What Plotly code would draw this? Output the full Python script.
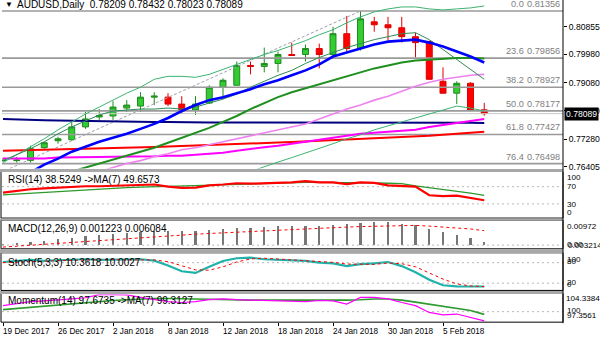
import plotly.graph_objects as go

W, H = 600, 343

# ---------------- data ----------------
bars = list(range(36))  # trading days 19 Dec 2017 .. 8 Feb 2018
date_pos = [0, 4, 8, 12, 16, 20, 24, 28, 32]
date_text = ["19 Dec 2017", "26 Dec 2017", "2 Jan 2018", "8 Jan 2018", "12 Jan 2018",
             "18 Jan 2018", "24 Jan 2018", "30 Jan 2018", "5 Feb 2018"]

open_ = [0.76590, 0.76594, 0.76600, 0.77005, 0.77226, 0.77257, 0.77667, 0.77983, 0.78014, 0.78267,
         0.78330, 0.78614, 0.78614, 0.78393, 0.78204, 0.78425, 0.78930, 0.78993, 0.79624, 0.79592,
         0.79687, 0.79971, 0.79971, 0.80161, 0.79971, 0.80634, 0.80161, 0.81013, 0.80918, 0.80823,
         0.80539, 0.80382, 0.79119, 0.78740, 0.79056, 0.78209]
high = [0.76689, 0.76710, 0.77068, 0.77194, 0.77352, 0.77825, 0.78141, 0.78235, 0.78488, 0.78519,
        0.78772, 0.78772, 0.78740, 0.78646, 0.78646, 0.78993, 0.79214, 0.79750, 0.79750, 0.80192,
        0.80066, 0.80350, 0.80287, 0.80318, 0.80855, 0.81202, 0.81356, 0.81170, 0.81170, 0.81170,
        0.80666, 0.80413, 0.79561, 0.79119, 0.79088, 0.78432]
low = [0.76562, 0.76530, 0.76531, 0.76973, 0.77131, 0.77226, 0.77604, 0.77888, 0.77888, 0.78141,
       0.78141, 0.78362, 0.78330, 0.78078, 0.78046, 0.78400, 0.78551, 0.78993, 0.79340, 0.79403,
       0.79403, 0.79940, 0.79750, 0.79529, 0.79940, 0.80066, 0.80097, 0.80697, 0.80413, 0.80350,
       0.79877, 0.79182, 0.78740, 0.78393, 0.78172, 0.78023]
close = [0.76600, 0.76610, 0.76973, 0.77163, 0.77289, 0.77667, 0.77920, 0.78030, 0.78299, 0.78362,
         0.78614, 0.78646, 0.78393, 0.78172, 0.78393, 0.78930, 0.79151, 0.79624, 0.79592, 0.79687,
         0.79971, 0.79940, 0.80161, 0.79971, 0.80634, 0.80161, 0.81107, 0.80918, 0.80823, 0.80539,
         0.80350, 0.79182, 0.78740, 0.79056, 0.78204, 0.78089]

ma10 = [None, None, 0.76216, 0.76468, 0.76657, 0.76878, 0.77036, 0.77194, 0.77320, 0.77446,
        0.77604, 0.77762, 0.77951, 0.78172, 0.78362, 0.78519, 0.78614, 0.78740, 0.78867, 0.79024,
        0.79151, 0.79309, 0.79466, 0.79656, 0.79908, 0.80034, 0.80161, 0.80287, 0.80382, 0.80413,
        0.80445, 0.80350, 0.80224, 0.80066, 0.79908, 0.79719]
ma20 = [None, None, None, None, None, 0.76247, 0.76373, 0.76500, 0.76626, 0.76752,
        0.76878, 0.77005, 0.77162, 0.77320, 0.77478, 0.77636, 0.77825, 0.78014, 0.78235, 0.78425,
        0.78614, 0.78772, 0.78899, 0.79024, 0.79151, 0.79277, 0.79403, 0.79529, 0.79624, 0.79719,
        0.79782, 0.79814, 0.79845, 0.79861, 0.79861, 0.79845]
band_up = [0.76531, 0.76784, 0.77036, 0.77289, 0.77573, 0.77825, 0.78078, 0.78299, 0.78519, 0.78741,
           0.78930, 0.79182, 0.79277, 0.79277, 0.79245, 0.79340, 0.79498, 0.79656, 0.79813, 0.79971,
           0.80098, 0.80255, 0.80413, 0.80602, 0.80760, 0.80981, 0.81170, 0.81328, 0.81423, 0.81486,
           0.81486, 0.81423, 0.81391, 0.81423, 0.81455, 0.81518]
band_low = [None] * 18 + [0.76247, 0.76405, 0.76547, 0.76689, 0.76831, 0.76973, 0.77131, 0.77289,
                          0.77415, 0.77573, 0.77699, 0.77841, 0.77951, 0.78078, 0.78204, 0.78330,
                          0.78267, 0.78172]
fast_ma = [0.76594, 0.76784, 0.76973, 0.77194, 0.77446, 0.77667, 0.77857, 0.78046, 0.78172, 0.78204,
           0.78235, 0.78235, 0.78267, 0.78235, 0.78299, 0.78425, 0.78551, 0.78709, 0.78930, 0.79119,
           0.79309, 0.79466, 0.79687, 0.79876, 0.80034, 0.80192, 0.80318, 0.80445, 0.80539, 0.80634,
           0.80666, 0.80445, 0.80129, 0.79813, 0.79498, 0.79182]
ma_violet = [None] * 7 + [0.76247, 0.76373, 0.76500, 0.76594, 0.76720, 0.76815, 0.76941, 0.77005,
                          0.77099, 0.77194, 0.77289, 0.77383, 0.77478, 0.77573, 0.77667, 0.77762,
                          0.77920, 0.78078, 0.78235, 0.78362, 0.78519, 0.78646, 0.78804, 0.78961,
                          0.79088, 0.79182, 0.79245, 0.79309, 0.79340]
ma_magenta = [0.76657, 0.76657, 0.76657, 0.76657, 0.76689, 0.76689, 0.76689, 0.76705, 0.76720, 0.76720,
              0.76720, 0.76736, 0.76752, 0.76752, 0.76784, 0.76815, 0.76847, 0.76910, 0.76973, 0.77020,
              0.77068, 0.77131, 0.77194, 0.77257, 0.77320, 0.77383, 0.77446, 0.77478, 0.77509, 0.77541,
              0.77573, 0.77667, 0.77730, 0.77794, 0.77857, 0.77920]
ma_red = [0.76910, 0.76919, 0.76929, 0.76941, 0.76954, 0.76967, 0.76976, 0.76986, 0.76995, 0.77005,
          0.77017, 0.77030, 0.77042, 0.77055, 0.77068, 0.77080, 0.77099, 0.77118, 0.77137, 0.77153,
          0.77169, 0.77188, 0.77207, 0.77226, 0.77241, 0.77257, 0.77279, 0.77301, 0.77320, 0.77339,
          0.77358, 0.77383, 0.77415, 0.77446, 0.77478, 0.77509]
ma_navy = [0.7792, 0.7790, 0.7789, 0.7788, 0.7787, 0.7786, 0.7785, 0.7784, 0.7784, 0.7783,
           0.7783, 0.7782, 0.7782, 0.7781, 0.7781, 0.7781, 0.7781, 0.7781, 0.7781, 0.7781,
           0.7781, 0.7782, 0.7782, 0.7782, 0.7782, 0.7782, 0.7782, 0.7782, 0.7782, 0.7782,
           0.7782, 0.7781, 0.7781, 0.7780, 0.7780, 0.7779]

trend_x = [0.5, 26]
trend_y = [0.76342, 0.81356]

fib_pct = ["0.0", "23.6", "38.2", "50.0", "61.8", "76.4"]
fib_lvl = [0.81356, 0.79856, 0.78927, 0.78177, 0.77427, 0.76498]
price_ticks = [0.80855, 0.79980, 0.79080, 0.78180, 0.77280, 0.76405]

rsi = [56, 60, 64, 66, 68, 69, 71, 71, 72, 73, 75, 75, 70, 67, 68, 73, 75, 78, 77, 78,
       80, 80, 83, 80, 80, 76, 80, 79, 73, 71, 70, 50, 48, 49, 43, 38.5249]
rsi_ma = [51, 53, 55, 57, 59, 61, 63, 65, 66, 68, 69, 70, 71, 71, 72, 73, 74, 75, 76, 77,
          78, 79, 80, 80, 80, 80, 80, 79, 78, 77, 72, 68, 64, 60, 55, 49.6573]

macd = [0.00032, 0.00075, 0.0014, 0.0018, 0.0024, 0.0030, 0.0037, 0.0041, 0.0047, 0.0050,
        0.0055, 0.0060, 0.0061, 0.0060, 0.0061, 0.0064, 0.0068, 0.0072, 0.0074, 0.0076,
        0.0079, 0.0080, 0.0079, 0.0080, 0.0086, 0.0089, 0.0093, 0.0096, 0.00972, 0.0090,
        0.0083, 0.0068, 0.0055, 0.0044, 0.0030, 0.001223]
macd_sig = [-0.0008, -0.0004, 0.0000, 0.0004, 0.0008, 0.0012, 0.0016, 0.0020, 0.0024, 0.0028,
            0.0032, 0.0036, 0.0040, 0.0043, 0.0046, 0.0049, 0.0052, 0.0055, 0.0058, 0.0061,
            0.0064, 0.0067, 0.0070, 0.0072, 0.0074, 0.0076, 0.0078, 0.0080, 0.0082, 0.0083,
            0.0083, 0.0080, 0.0077, 0.0073, 0.0068, 0.006084]

stoch_k = [82, 85, 88, 85, 87, 90, 90, 88, 89, 88, 90, 86, 72, 55, 50, 68, 85, 93, 95, 90,
           88, 87, 85, 80, 78, 70, 76, 78, 82, 70, 52, 30, 14, 11, 10, 10.3618]
stoch_d = [80, 82, 84, 85, 86, 87, 88, 89, 89, 88, 89, 88, 83, 71, 59, 58, 68, 82, 91, 93,
           91, 88, 87, 84, 81, 76, 75, 75, 79, 77, 68, 51, 32, 18, 12, 10.0027]

mom = [101.5, 102.0, 102.5, 102.7, 102.9, 103.2, 103.5, 104.3, 104.3, 104.2, 103.6, 103.0,
       102.5, 102.3, 102.5, 103.0, 103.2, 103.0, 102.9, 102.8, 102.8, 102.6, 102.5, 102.8,
       102.7, 101.9, 103.6, 103.6, 103.2, 102.3, 101.5, 99.8, 99.2, 99.4, 98.5, 97.6735]
mom_ma = [100.5, 100.8, 101.1, 101.4, 101.7, 101.9, 102.2, 102.5, 102.8, 103.0, 103.2, 103.3,
          103.3, 103.3, 103.2, 103.1, 103.0, 103.0, 102.9, 102.9, 102.9, 102.9, 102.8, 102.8,
          102.9, 102.9, 103.0, 103.2, 103.2, 102.9, 102.4, 101.9, 101.4, 100.9, 100.3, 99.3127]

# ---------------- layout helpers ----------------
FONT = "Liberation Sans, Arial, sans-serif"
FS_TITLE = 10          # header and indicator captions
FS_SCALE = 8.6         # price scale labels
FS_SIDE = 8.1          # indicator scale labels
FS_FIB = 9.2           # Fibonacci captions
FS_DATE = 8.2          # time scale
X_LEFT, X_RIGHT = 2, 563          # plot area in pixels
BAR0, STEP = 3, 13.75             # first bar centre and bar spacing in pixels
x_range = [(X_LEFT - BAR0) / STEP, (X_RIGHT - BAR0) / STEP]


def fx(p):
    return p / W


def fy(p):
    return 1 - p / H


# pixel bands (top, bottom) of the five panes
panes = {
    "main": (0, 170),
    "rsi": (174, 220),
    "macd": (223, 251),
    "stoch": (256, 293),
    "mom": (297, 325),
}
y_ranges = {
    "main": [0.76342, 0.81707],
    "rsi": [-3.0, 103.0],
    "macd": [-0.00154, 0.010133],
    "stoch": [-1.16, 106.1],
    "mom": [97.3561, 104.3384],
}
order = ["main", "rsi", "macd", "stoch", "mom"]

fig = go.Figure()

# ---------------- main pane ----------------
for lvl in fib_lvl:
    fig.add_trace(go.Scatter(x=x_range, y=[lvl, lvl], mode="lines",
                             line=dict(color="#9a9a9a", width=1.6), hoverinfo="skip",
                             xaxis="x", yaxis="y", showlegend=False))
fig.add_trace(go.Scatter(x=x_range, y=[close[-1], close[-1]], mode="lines",
                         line=dict(color="#c8c8c8", width=1), xaxis="x", yaxis="y",
                         showlegend=False))
fig.add_trace(go.Scatter(x=trend_x, y=trend_y, mode="lines",
                         line=dict(color="#a0a0b0", width=1, dash="3px,2px"),
                         xaxis="x", yaxis="y", showlegend=False))

main_lines = [
    (ma_navy, "#000080", 2.0),
    (ma_red, "#ff0000", 2.0),
    (ma_magenta, "#ff00ff", 2.0),
    (ma_violet, "#ee82ee", 1.6),
    (band_low, "#3cb371", 1.0),
    (band_up, "#3cb371", 1.0),
    (ma20, "#1f8f1f", 2.0),
    (fast_ma, "#2e8b57", 1.0),
    (ma10, "#0000ff", 2.6),
]
for vals, col, wd in main_lines:
    fig.add_trace(go.Scatter(x=bars, y=vals, mode="lines", line=dict(color=col, width=wd),
                             xaxis="x", yaxis="y", showlegend=False))

fig.add_trace(go.Candlestick(
    x=bars, open=open_, high=high, low=low, close=close,
    increasing=dict(line=dict(color="#1e8c1e", width=1), fillcolor="#33cc33"),
    decreasing=dict(line=dict(color="#e00000", width=1), fillcolor="#ff0000"),
    whiskerwidth=0, xaxis="x", yaxis="y", showlegend=False))

# ---------------- RSI pane ----------------
for lvl in (70, 30):
    fig.add_trace(go.Scatter(x=x_range, y=[lvl, lvl], mode="lines",
                             line=dict(color="#b8b8b8", width=1, dash="2px,3px"),
                             xaxis="x2", yaxis="y2", showlegend=False))
fig.add_trace(go.Scatter(x=bars, y=rsi_ma, mode="lines", line=dict(color="#2e9a2e", width=1.3),
                         xaxis="x2", yaxis="y2", showlegend=False))
fig.add_trace(go.Scatter(x=bars, y=rsi, mode="lines", line=dict(color="#ff0000", width=2.2),
                         xaxis="x2", yaxis="y2", showlegend=False))

# ---------------- MACD pane ----------------
fig.add_trace(go.Scatter(x=x_range, y=[0, 0], mode="lines",
                         line=dict(color="#b8b8b8", width=1, dash="2px,3px"),
                         xaxis="x3", yaxis="y3", showlegend=False))
fig.add_trace(go.Bar(x=bars, y=macd, width=0.15, marker=dict(color="#777777", line=dict(width=0)),
                     xaxis="x3", yaxis="y3", showlegend=False))
fig.add_trace(go.Scatter(x=bars, y=macd_sig, mode="lines",
                         line=dict(color="#ff0000", width=1, dash="3px,3px"),
                         xaxis="x3", yaxis="y3", showlegend=False))

# ---------------- Stochastic pane ----------------
for lvl in (80, 20):
    fig.add_trace(go.Scatter(x=x_range, y=[lvl, lvl], mode="lines",
                             line=dict(color="#b8b8b8", width=1, dash="2px,3px"),
                             xaxis="x4", yaxis="y4", showlegend=False))
fig.add_trace(go.Scatter(x=bars, y=stoch_k, mode="lines", line=dict(color="#20b2aa", width=2.2),
                         xaxis="x4", yaxis="y4", showlegend=False))
fig.add_trace(go.Scatter(x=bars, y=stoch_d, mode="lines",
                         line=dict(color="#ff0000", width=1, dash="3px,3px"),
                         xaxis="x4", yaxis="y4", showlegend=False))

# ---------------- Momentum pane ----------------
fig.add_trace(go.Scatter(x=x_range, y=[100, 100], mode="lines",
                         line=dict(color="#b8b8b8", width=1, dash="2px,3px"),
                         xaxis="x5", yaxis="y5", showlegend=False))
fig.add_trace(go.Scatter(x=bars, y=mom_ma, mode="lines", line=dict(color="#2e9a2e", width=1.6),
                         xaxis="x5", yaxis="y5", showlegend=False))
fig.add_trace(go.Scatter(x=bars, y=mom, mode="lines", line=dict(color="#ff00ff", width=1.2),
                         xaxis="x5", yaxis="y5", showlegend=False))

# ---------------- axes ----------------
layout = dict(
    width=W, height=H, margin=dict(l=0, r=0, t=0, b=0),
    paper_bgcolor="white", plot_bgcolor="white",
    font=dict(family=FONT, size=FS_SCALE, color="black"),
    showlegend=False, boxgap=0.38, bargap=0, hovermode=False,
)
for k, name in enumerate(order, start=1):
    top, bot = panes[name]
    xa = "xaxis" if k == 1 else f"xaxis{k}"
    ya = "yaxis" if k == 1 else f"yaxis{k}"
    layout[xa] = dict(domain=[fx(X_LEFT), fx(X_RIGHT)], range=x_range, showgrid=False,
                      zeroline=False, showticklabels=False, showline=False,
                      anchor="y" if k == 1 else f"y{k}", fixedrange=True,
                      rangeslider=dict(visible=False))
    layout[ya] = dict(domain=[fy(bot), fy(top)], range=y_ranges[name], showgrid=False,
                      zeroline=False, showticklabels=False, showline=False,
                      anchor="x" if k == 1 else f"x{k}", fixedrange=True)

layout["yaxis"].update(side="right", showticklabels=True, tickvals=price_ticks,
                       ticktext=[f"{v:.5f}" for v in price_ticks], ticks="outside",
                       ticklen=3, tickcolor="black", tickwidth=1,
                       tickfont=dict(family=FONT, size=FS_SCALE, color="black"))
layout["xaxis5"].update(tickvals=date_pos, ticks="outside", ticklen=3, tickcolor="black")

shapes = []
# pane frames and the splitters between them
for name in order:
    top, bot = panes[name]
    if name != "main":
        shapes.append(dict(type="rect", xref="paper", yref="paper",
                           x0=fx(X_LEFT - 1), x1=fx(X_RIGHT), y0=fy(bot), y1=fy(top - 1),
                           line=dict(color="black", width=1)))
for a, b in [(170, 174), (220, 223), (251, 256), (293, 297)]:
    shapes.append(dict(type="rect", xref="paper", yref="paper", x0=0, x1=fx(X_RIGHT),
                       y0=fy(b - 0.5), y1=fy(a + 0.5), fillcolor="#a8a8a8",
                       line=dict(width=0), layer="above"))
shapes.append(dict(type="line", xref="paper", yref="paper", x0=fx(X_RIGHT), x1=fx(X_RIGHT),
                   y0=fy(326), y1=1, line=dict(color="black", width=1)))
layout["shapes"] = shapes

ann = []
ann.append(dict(text="▼", x=fx(3), y=fy(5), xref="paper", yref="paper", xanchor="left",
                yanchor="middle", showarrow=False, font=dict(size=8, color="black")))
ann.append(dict(text="AUDUSD,Daily  %.5f %.5f %.5f %.5f" % (open_[-1], high[-1], low[-1], close[-1]),
                x=fx(15), y=fy(5), xref="paper", yref="paper", xanchor="left", yanchor="middle",
                showarrow=False, font=dict(size=FS_TITLE)))
for pct, lvl in zip(fib_pct, fib_lvl):
    ann.append(dict(text=pct, x=fx(526), y=lvl, xref="paper", yref="y", xanchor="right",
                    yanchor="bottom", showarrow=False,
                    font=dict(color="#808080", size=FS_FIB)))
    ann.append(dict(text=f"{lvl:.5f}", x=fx(562), y=lvl, xref="paper", yref="y",
                    xanchor="right", yanchor="bottom", showarrow=False,
                    font=dict(color="#808080", size=FS_FIB)))
ann.append(dict(text=f"{close[-1]:.5f}", x=fx(564), y=close[-1], xref="paper", yref="y",
                xanchor="left", yanchor="middle", showarrow=False, bgcolor="black",
                font=dict(color="white", size=FS_SCALE), borderpad=1))

titles = [
    ("RSI(14) %.4f ->MA(7) %.4f" % (rsi[-1], rsi_ma[-1]), 181),
    ("MACD(12,26,9) %.6f %.6f" % (macd[-1], macd_sig[-1]), 231),
    ("Stoch(5,3,3) %.4f %.4f" % (stoch_k[-1], stoch_d[-1]), 265),
    ("Momentum(14) %.4f ->MA(7) %.4f" % (mom[-1], mom_ma[-1]), 303),
]
for txt, yy in titles:
    ann.append(dict(text=txt, x=fx(6), y=fy(yy), xref="paper", yref="paper", xanchor="left",
                    yanchor="middle", showarrow=False, font=dict(size=FS_TITLE)))

side_labels = [
    ("100", 179), ("70", 188), ("30", 206), ("0", 214),
    ("0.00972", 229), ("0.00", 247), ("0.003214", 247.5),
    ("100", 262), ("80", 264), ("20", 285), ("0", 287),
    ("104.3384", 301), ("100", 313), ("97.3561", 318),
]
for txt, yy in side_labels:
    xx = {"0.003214": 566, "104.3384": 563.5}.get(txt, 565)
    ann.append(dict(text=txt, x=fx(xx), y=fy(yy), xref="paper", yref="paper", xanchor="left",
                    yanchor="middle", showarrow=False, font=dict(size=FS_SIDE)))

for pos, txt in zip(date_pos, date_text):
    ann.append(dict(text=txt, x=pos, y=fy(334), xref="x5", yref="paper", xanchor="left",
                    xshift=-2, yanchor="middle", showarrow=False, font=dict(size=FS_DATE)))
layout["annotations"] = ann

fig.update_layout(**layout)
fig.write_html("out.html", config={"displayModeBar": False, "staticPlot": True})
